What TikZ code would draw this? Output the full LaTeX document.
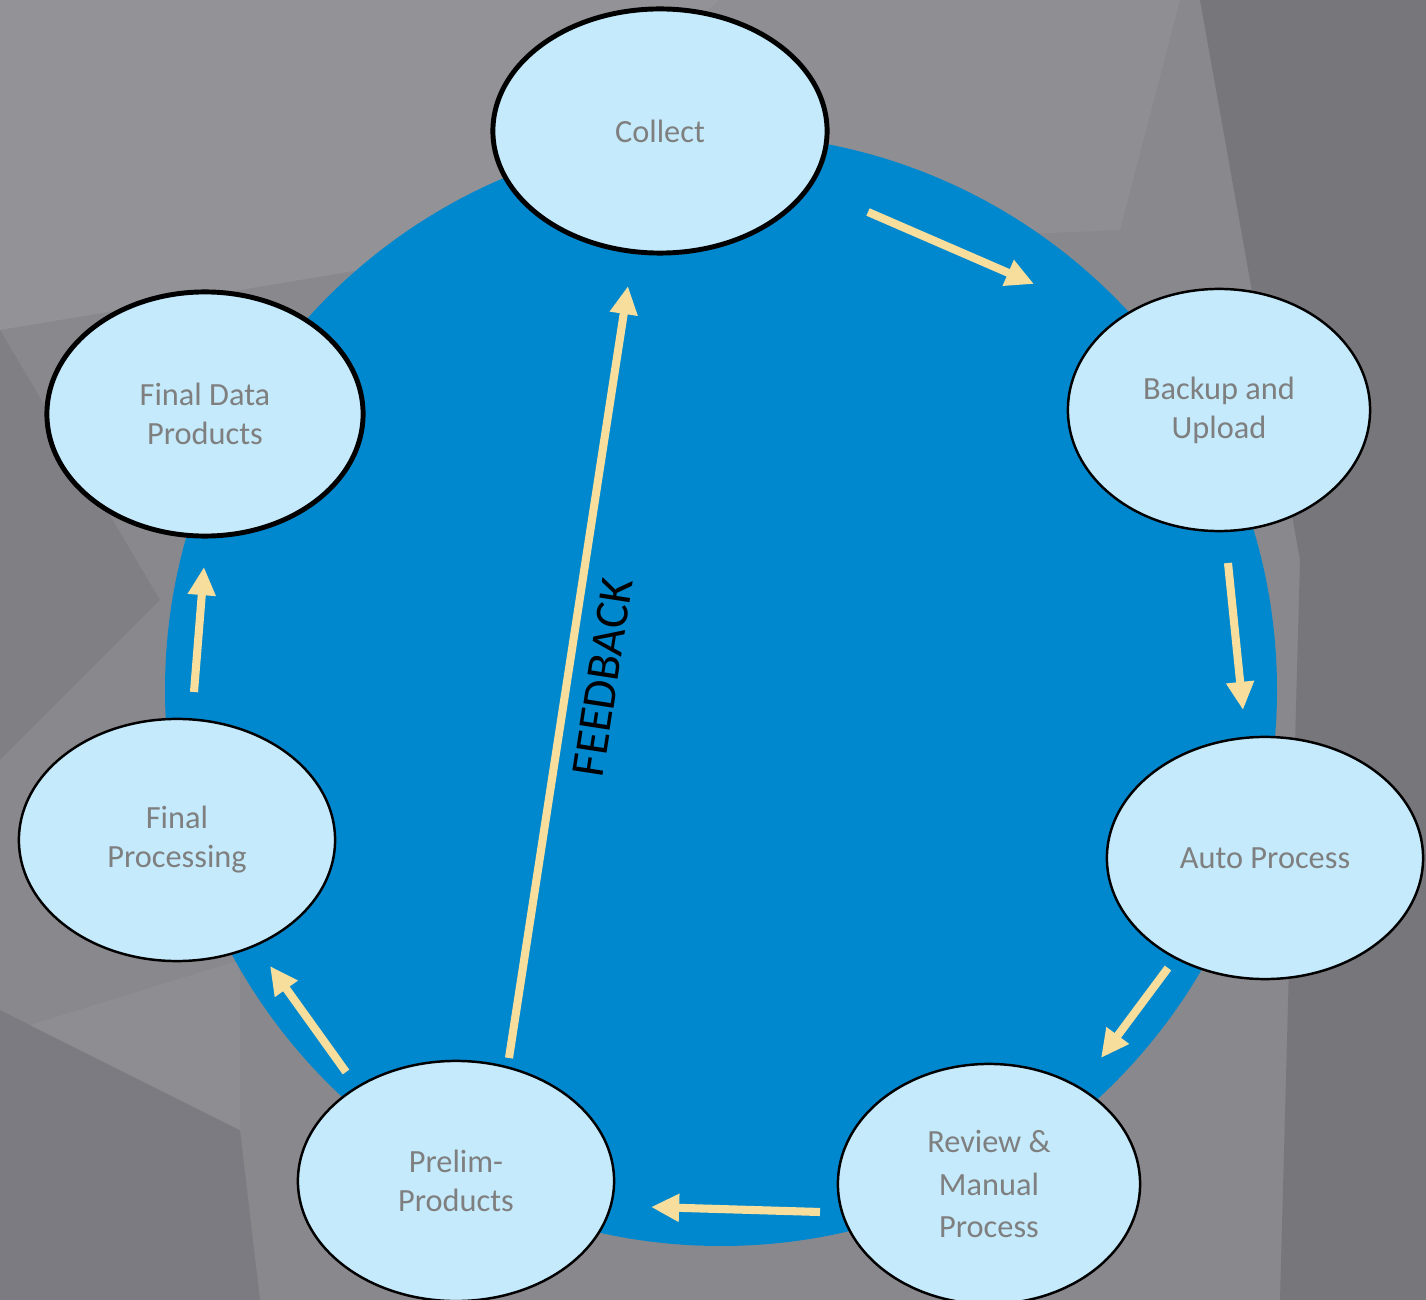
\documentclass[tikz,border=0pt]{standalone}
\usepackage{fontspec}
\setmainfont{Carlito}
\usepackage{tikz}
\usetikzlibrary{shapes.geometric,arrows.meta}
\definecolor{bggrey}{RGB}{136,136,141}
\definecolor{bglight}{RGB}{146,146,151}
\definecolor{bgdark}{RGB}{118,118,123}
\definecolor{cycleblue}{RGB}{0,136,206}
\definecolor{stageblue}{RGB}{196,234,252}
\definecolor{stagetext}{RGB}{127,127,127}
\definecolor{flowyellow}{RGB}{248,222,156}

\begin{document}
\begin{tikzpicture}[x=0.01cm,y=-0.01cm,
  stage/.style={draw, ellipse, fill=stageblue, line width=0.7pt, inner sep=0pt,
    align=center, text=stagetext, font=\fontsize{9.2}{11.1}\selectfont},
  keystage/.style={stage, line width=1.4pt},
  flow/.style={draw=flowyellow, line width=2.3pt,
    -{Triangle[length=8pt,width=7.5pt,fill=flowyellow]}}]
\useasboundingbox (0,0) rectangle (1426,1300);
% Background facets
\fill[bggrey] (0,0) rectangle (1426,1300);
\fill[bglight] (0,0) -- (720,0) -- (420,260) -- (0,330) -- cycle;
\fill[bglight!60!bggrey] (720,0) -- (1180,0) -- (1120,230) -- (420,260) -- cycle;
\fill[bgdark] (1200,0) -- (1426,0) -- (1426,1300) -- (1280,1300) -- (1300,560) -- cycle;
\fill[bgdark!50!bggrey] (0,330) -- (160,600) -- (0,760) -- cycle;
\fill[bgdark!70!bggrey] (0,1010) -- (240,1130) -- (260,1300) -- (0,1300) -- cycle;
\fill[bggrey!96!white] (30,1025) -- (240,960) -- (240,1130) -- cycle;

% Cycle
\fill[cycleblue] (721,690) circle (556);

% Stages
\node[keystage, minimum width=3.34cm, minimum height=2.44cm] (collect) at (660,131) {Collect};
\node[stage, minimum width=3.02cm, minimum height=2.42cm] (backup) at (1219,410) {Backup and\\Upload};
\node[stage, minimum width=3.16cm, minimum height=2.42cm] (auto) at (1265,858) {Auto Process};
\node[stage, minimum width=3.02cm, minimum height=2.40cm,
  font=\fontsize{9.2}{12}\selectfont] (review) at (989,1184) {Review \&\\Manual\\Process};
\node[stage, minimum width=3.16cm, minimum height=2.40cm] (prelim) at (456,1181) {Prelim-\\Products};
\node[stage, minimum width=3.16cm, minimum height=2.42cm] (finalproc) at (177,840) {Final\\Processing};
\node[keystage, minimum width=3.16cm, minimum height=2.44cm] (finaldata) at (205,414) {Final Data\\Products};

% Arrow ends
\coordinate (c2b) at (868,212);  \coordinate (b2c) at (1034,284);
\coordinate (b2a) at (1228,563); \coordinate (a2b) at (1243,710);
\coordinate (a2r) at (1168,968); \coordinate (r2a) at (1101,1058);
\coordinate (r2p) at (820,1212); \coordinate (p2r) at (651,1207);
\coordinate (p2f) at (346,1072); \coordinate (f2p) at (270,966);
\coordinate (f2d) at (194,692);  \coordinate (d2f) at (204,567);
\coordinate (p2c) at (509,1058); \coordinate (c2p) at (628,286);

% Connections
\draw[flow] (c2b) -- (b2c);
\draw[flow] (b2a) -- (a2b);
\draw[flow] (a2r) -- (r2a);
\draw[flow] (r2p) -- (p2r);
\draw[flow] (p2f) -- (f2p);
\draw[flow] (f2d) -- (d2f);
\draw[flow] (p2c) -- node[pos=0.5, below, sloped, yshift=-1pt, black,
  font=\fontsize{13.5}{15}\selectfont] (fbk) {FEEDBACK} (c2p);
\end{tikzpicture}
\end{document}
